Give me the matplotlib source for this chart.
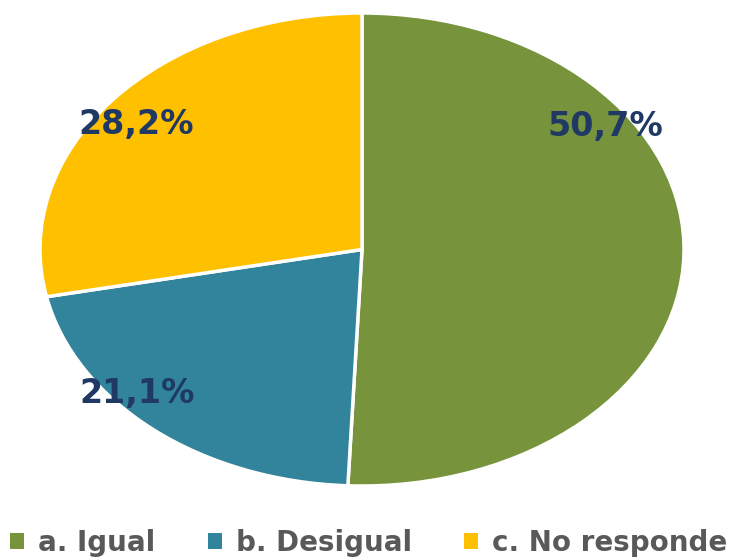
import matplotlib
matplotlib.use("Agg")
import matplotlib.pyplot as plt

categories = ["a. Igual", "b. Desigual", "c. No responde"]
values = [50.7, 21.1, 28.2]
colors = ["#77933C", "#31849B", "#FFC000"]

fig = plt.figure(figsize=(7.3, 5.57), dpi=100)
ax = fig.add_axes([40/730, (557-486)/557, 644/730, 473/557])

wedges, texts, autotexts = ax.pie(
    values, colors=colors, startangle=90, counterclock=False,
    autopct=lambda p: f"{p:.1f}%".replace(".", ","),
    wedgeprops=dict(edgecolor="white", linewidth=2.5),
    textprops=dict(color="#1F3864", fontsize=24, fontweight="bold",
                   family="DejaVu Sans"),
)
# manual label placement (axes data coords)
label_xy = [(0.755, 0.52), (-0.70, -0.61), (-0.70, 0.53)]
for t, xy in zip(autotexts, label_xy):
    t.set_position(xy)
    t.set_ha("center")
    t.set_va("center")

ax.set_aspect("auto")
ax.set_xlim(-1.0, 1.0)
ax.set_ylim(-1.0, 1.0)
ax.axis("off")

leg = fig.legend(
    wedges, categories, loc="lower left", bbox_to_anchor=(10/730, 0.0),
    ncol=3, frameon=False, handlelength=0.5, handleheight=0.5,
    handletextpad=0.5, columnspacing=1.9, borderpad=0.0, borderaxespad=0.0,
    prop=dict(size=20, weight="bold", family="DejaVu Sans"),
)
for t in leg.get_texts():
    t.set_color("#595959")
for h in leg.legend_handles:
    h.set_edgecolor("none")

fig.savefig("out.png", dpi=100)
